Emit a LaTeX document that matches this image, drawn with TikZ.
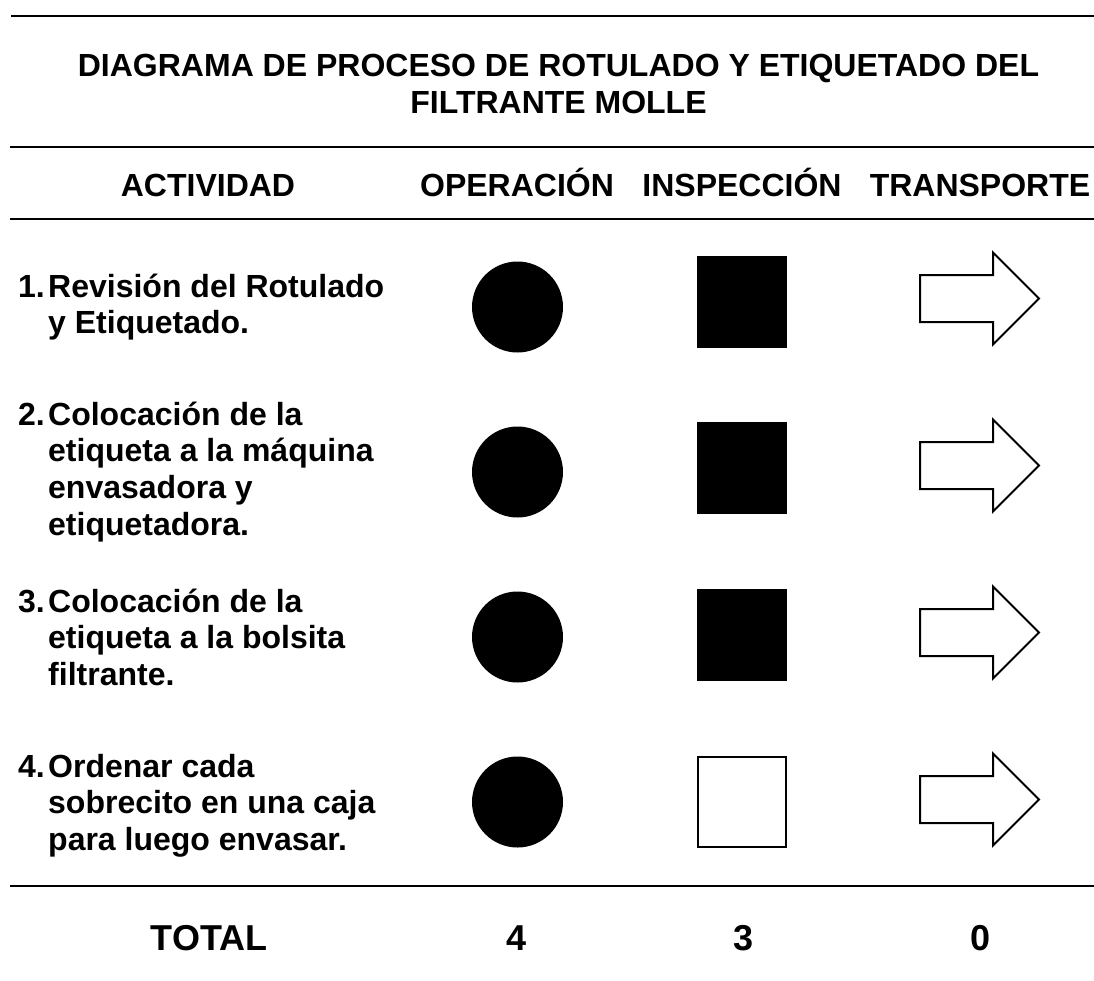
\documentclass[tikz,border=0pt]{standalone}
\usepackage{fontspec}
\setmainfont{Liberation Sans}
\usetikzlibrary{shapes.arrows}
\tikzset{
  rule/.style={line width=2pt},
  txt/.style={font=\fontsize{32}{36.8}\selectfont\bfseries, inner sep=0pt},
  big/.style={font=\fontsize{36}{41}\selectfont\bfseries, inner sep=0pt},
  opshape/.style={circle, fill=black, minimum size=91pt, inner sep=0pt},
  inshape/.style={rectangle, minimum width=90pt, minimum height=92pt, inner sep=0pt},
  trshape/.style={single arrow, draw, line width=2pt, fill=white, minimum height=119pt,
    inner xsep=0pt, inner ysep=22.5pt, outer sep=0pt, single arrow head extend=22.5pt,
    single arrow tip angle=90, anchor=tail},
}
\newcommand{\actrow}[2]{\begin{tabular}[t]{@{}p{30pt}@{}l@{}}#1&#2\end{tabular}}
\begin{document}
\begin{tikzpicture}[x=1pt,y=-1pt]
\useasboundingbox (0,0) rectangle (1094,980);
% rules
\draw[rule] (11,15.5) -- (1094,15.5);
\draw[rule] (10,147) -- (1094,147);
\draw[rule] (10,219) -- (1094,219);
\draw[rule] (10,886) -- (1094,886);
% title
\node[txt, anchor=base] (title1) at (558.5,76) {DIAGRAMA DE PROCESO DE ROTULADO Y ETIQUETADO DEL};
\node[txt, anchor=base] (title2) at (558.5,113) {FILTRANTE MOLLE};
% headers
\node[txt, anchor=base] (hA) at (208,196) {ACTIVIDAD};
\node[txt, anchor=base] (hO) at (517,196) {OPERACIÓN};
\node[txt, anchor=base] (hI) at (742,196) {INSPECCIÓN};
\node[txt, anchor=base] (hT) at (980,196) {TRANSPORTE};
% activities
\node[txt, anchor=base west] (act1) at (18,297) {\actrow{1.}{Revisión del Rotulado\\ & y Etiquetado.}};
\node[txt, anchor=base west] (act2) at (18,425) {\actrow{2.}{Colocación de la\\ & etiqueta a la máquina\\ & envasadora y\\ & etiquetadora.}};
\node[txt, anchor=base west] (act3) at (18,612) {\actrow{3.}{Colocación de la\\ & etiqueta a la bolsita\\ & filtrante.}};
\node[txt, anchor=base west] (act4) at (18,777) {\actrow{4.}{Ordenar cada\\ & sobrecito en una caja\\ & para luego envasar.}};
% operation circles
\node[opshape] (op1) at (517.5,307) {};
\node[opshape] (op2) at (517.5,472) {};
\node[opshape] (op3) at (517.5,637) {};
\node[opshape] (op4) at (517.5,802) {};
% inspection squares
\node[inshape, fill=black] (in1) at (742,301.5) {};
\node[inshape, fill=black] (in2) at (742,468) {};
\node[inshape, fill=black] (in3) at (742,635) {};
\node[inshape, draw, line width=2pt, fill=white, minimum width=88pt, minimum height=90pt] (in4) at (742,802) {};
% transport arrows
\node[trshape] (tr1) at (920,298.5) {};
\node[trshape] (tr2) at (920,465.5) {};
\node[trshape] (tr3) at (920,632.5) {};
\node[trshape] (tr4) at (920,799.5) {};
% totals
\node[big, anchor=base] (tot) at (209,950) {TOTAL};
\node[big, anchor=base] (totO) at (517,950) {4};
\node[big, anchor=base] (totI) at (743,950) {3};
\node[big, anchor=base] (totT) at (980,950) {0};
\end{tikzpicture}
\end{document}
